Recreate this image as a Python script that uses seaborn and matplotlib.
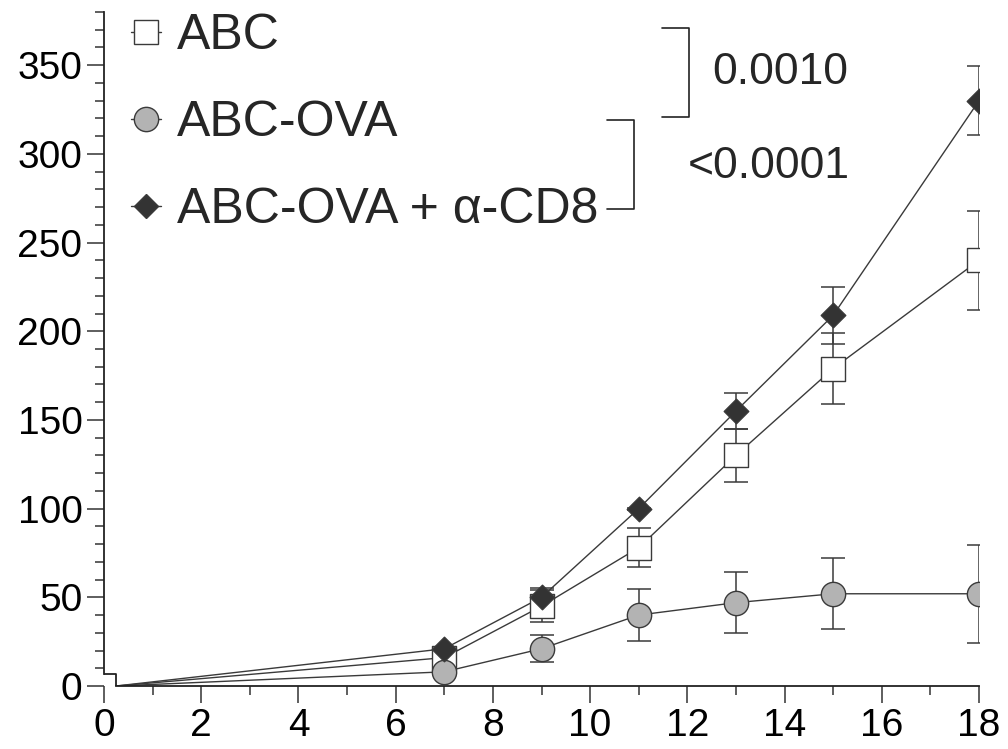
import numpy as np
import pandas as pd
import matplotlib
matplotlib.use("Agg")
import matplotlib.pyplot as plt
from matplotlib.lines import Line2D
from matplotlib.ticker import MultipleLocator
import seaborn as sns

# ---- data ----
days = [0.25, 7, 9, 11, 13, 15, 18]
groups = ["ABC", "ABC-OVA", "ABC-OVA + α-CD8"]
abc_mean = [0, 16, 45, 78, 130, 179, 240]
abc_sem = [0, 3, 9, 11, 15, 20, 28]
ova_mean = [0, 8, 21, 40, 47, 52, 52]
ova_sem = [0, 2, 7.5, 14.5, 17, 20, 27.5]
cd8_mean = [0, 21, 50, 100, 155, 209, 330]
cd8_sem = [0, 0.5, 5, 0.5, 10, 16, 19.5]
x_ticks = [0, 2, 4, 6, 8, 10, 12, 14, 16, 18]
y_ticks = [0, 50, 100, 150, 200, 250, 300, 350]
p_labels = ["0.0010", "<0.0001"]

sns.set_theme(style="ticks")
plt.rcParams["font.family"] = ["Liberation Sans", "DejaVu Sans"]

frames = []
for g, m, s in zip(groups, [abc_mean, ova_mean, cd8_mean], [abc_sem, ova_sem, cd8_sem]):
    frames.append(pd.DataFrame({"day": days, "value": m, "sem": s, "group": g}))
df = pd.concat(frames, ignore_index=True)

fig = plt.figure(figsize=(10.08, 7.49), dpi=100)
ax = fig.add_axes([104 / 1008, 1 - 686 / 749, (979 - 104) / 1008, (686 - 12) / 749])

line_col = "#3a3a3a"
styles = {
    "ABC": dict(marker="s", face="white", size=17.0),
    "ABC-OVA": dict(marker="o", face="#b3b3b3", size=17.5),
    "ABC-OVA + α-CD8": dict(marker="D", face="#333333", size=12.5),
}

# lines
sns.lineplot(data=df, x="day", y="value", hue="group", units="group", estimator=None,
             palette={g: line_col for g in groups}, linewidth=1.0, legend=False,
             ax=ax, zorder=2)

# error bars
for g in groups:
    sub = df[(df.group == g) & (df.day >= 7)]
    ax.errorbar(sub.day, sub.value, yerr=sub["sem"], fmt="none", ecolor=line_col,
                elinewidth=1.1, capsize=8.6, capthick=1.1, zorder=3)

# markers
for g in groups:
    sub = df[(df.group == g) & (df.day >= 7)]
    st = styles[g]
    sns.scatterplot(data=sub, x="day", y="value", marker=st["marker"], s=st["size"] ** 2,
                    color=st["face"], edgecolor=line_col, linewidth=1.0, ax=ax,
                    zorder=4, legend=False)

ax.set_xlim(0, 18)
ax.set_ylim(0, 380)
ax.set_xticks(x_ticks)
ax.set_yticks(y_ticks)
ax.xaxis.set_minor_locator(MultipleLocator(1))
ax.yaxis.set_minor_locator(MultipleLocator(10))
ax.set_xlabel("")
ax.set_ylabel("")
ax.tick_params(axis="both", which="major", length=12.5, width=1.1, color="#333333",
               labelsize=28, labelcolor="black", pad=3)
ax.tick_params(axis="both", which="minor", length=6.5, width=1.1, color="#333333")
ax.tick_params(axis="x", which="major", pad=3)

sns.despine(ax=ax)
ax.spines["left"].set_bounds(6.8, 380)
ax.spines["bottom"].set_bounds(0.25, 18)
for sp in ["left", "bottom"]:
    ax.spines[sp].set_linewidth(1.3)
    ax.spines[sp].set_color("#222222")
ax.plot([0, 0.25, 0.25], [6.8, 6.8, 0], color="#222222", lw=1.3, clip_on=False,
        solid_capstyle="butt", zorder=5)

# legend
handles = []
for g in groups:
    st = styles[g]
    handles.append(Line2D([0], [0], color=line_col, lw=1.0, marker=st["marker"],
                          markersize=st["size"], markerfacecolor=st["face"],
                          markeredgecolor=line_col, markeredgewidth=1.0))
leg = ax.legend(handles, groups, loc="upper left", frameon=False, fontsize=36,
                handlelength=0.6, handletextpad=0.32, labelspacing=0.82,
                borderpad=0, borderaxespad=0,
                bbox_to_anchor=(131 / 1008, 1 - 13 / 749), bbox_transform=fig.transFigure)

# significance brackets
br_col = "#222222"
ax.plot([11.48, 12.04, 12.04, 11.48], [371, 371, 320.7, 320.7], color=br_col, lw=1.2,
        clip_on=False)
ax.plot([10.35, 10.9, 10.9, 10.35], [319, 319, 269, 269], color=br_col, lw=1.2,
        clip_on=False)
ax.text(12.52, 346, p_labels[0], fontsize=32, va="center", ha="left")
ax.text(12.0, 293, p_labels[1], fontsize=32, va="center", ha="left")

fig.savefig("out.png", dpi=100)
